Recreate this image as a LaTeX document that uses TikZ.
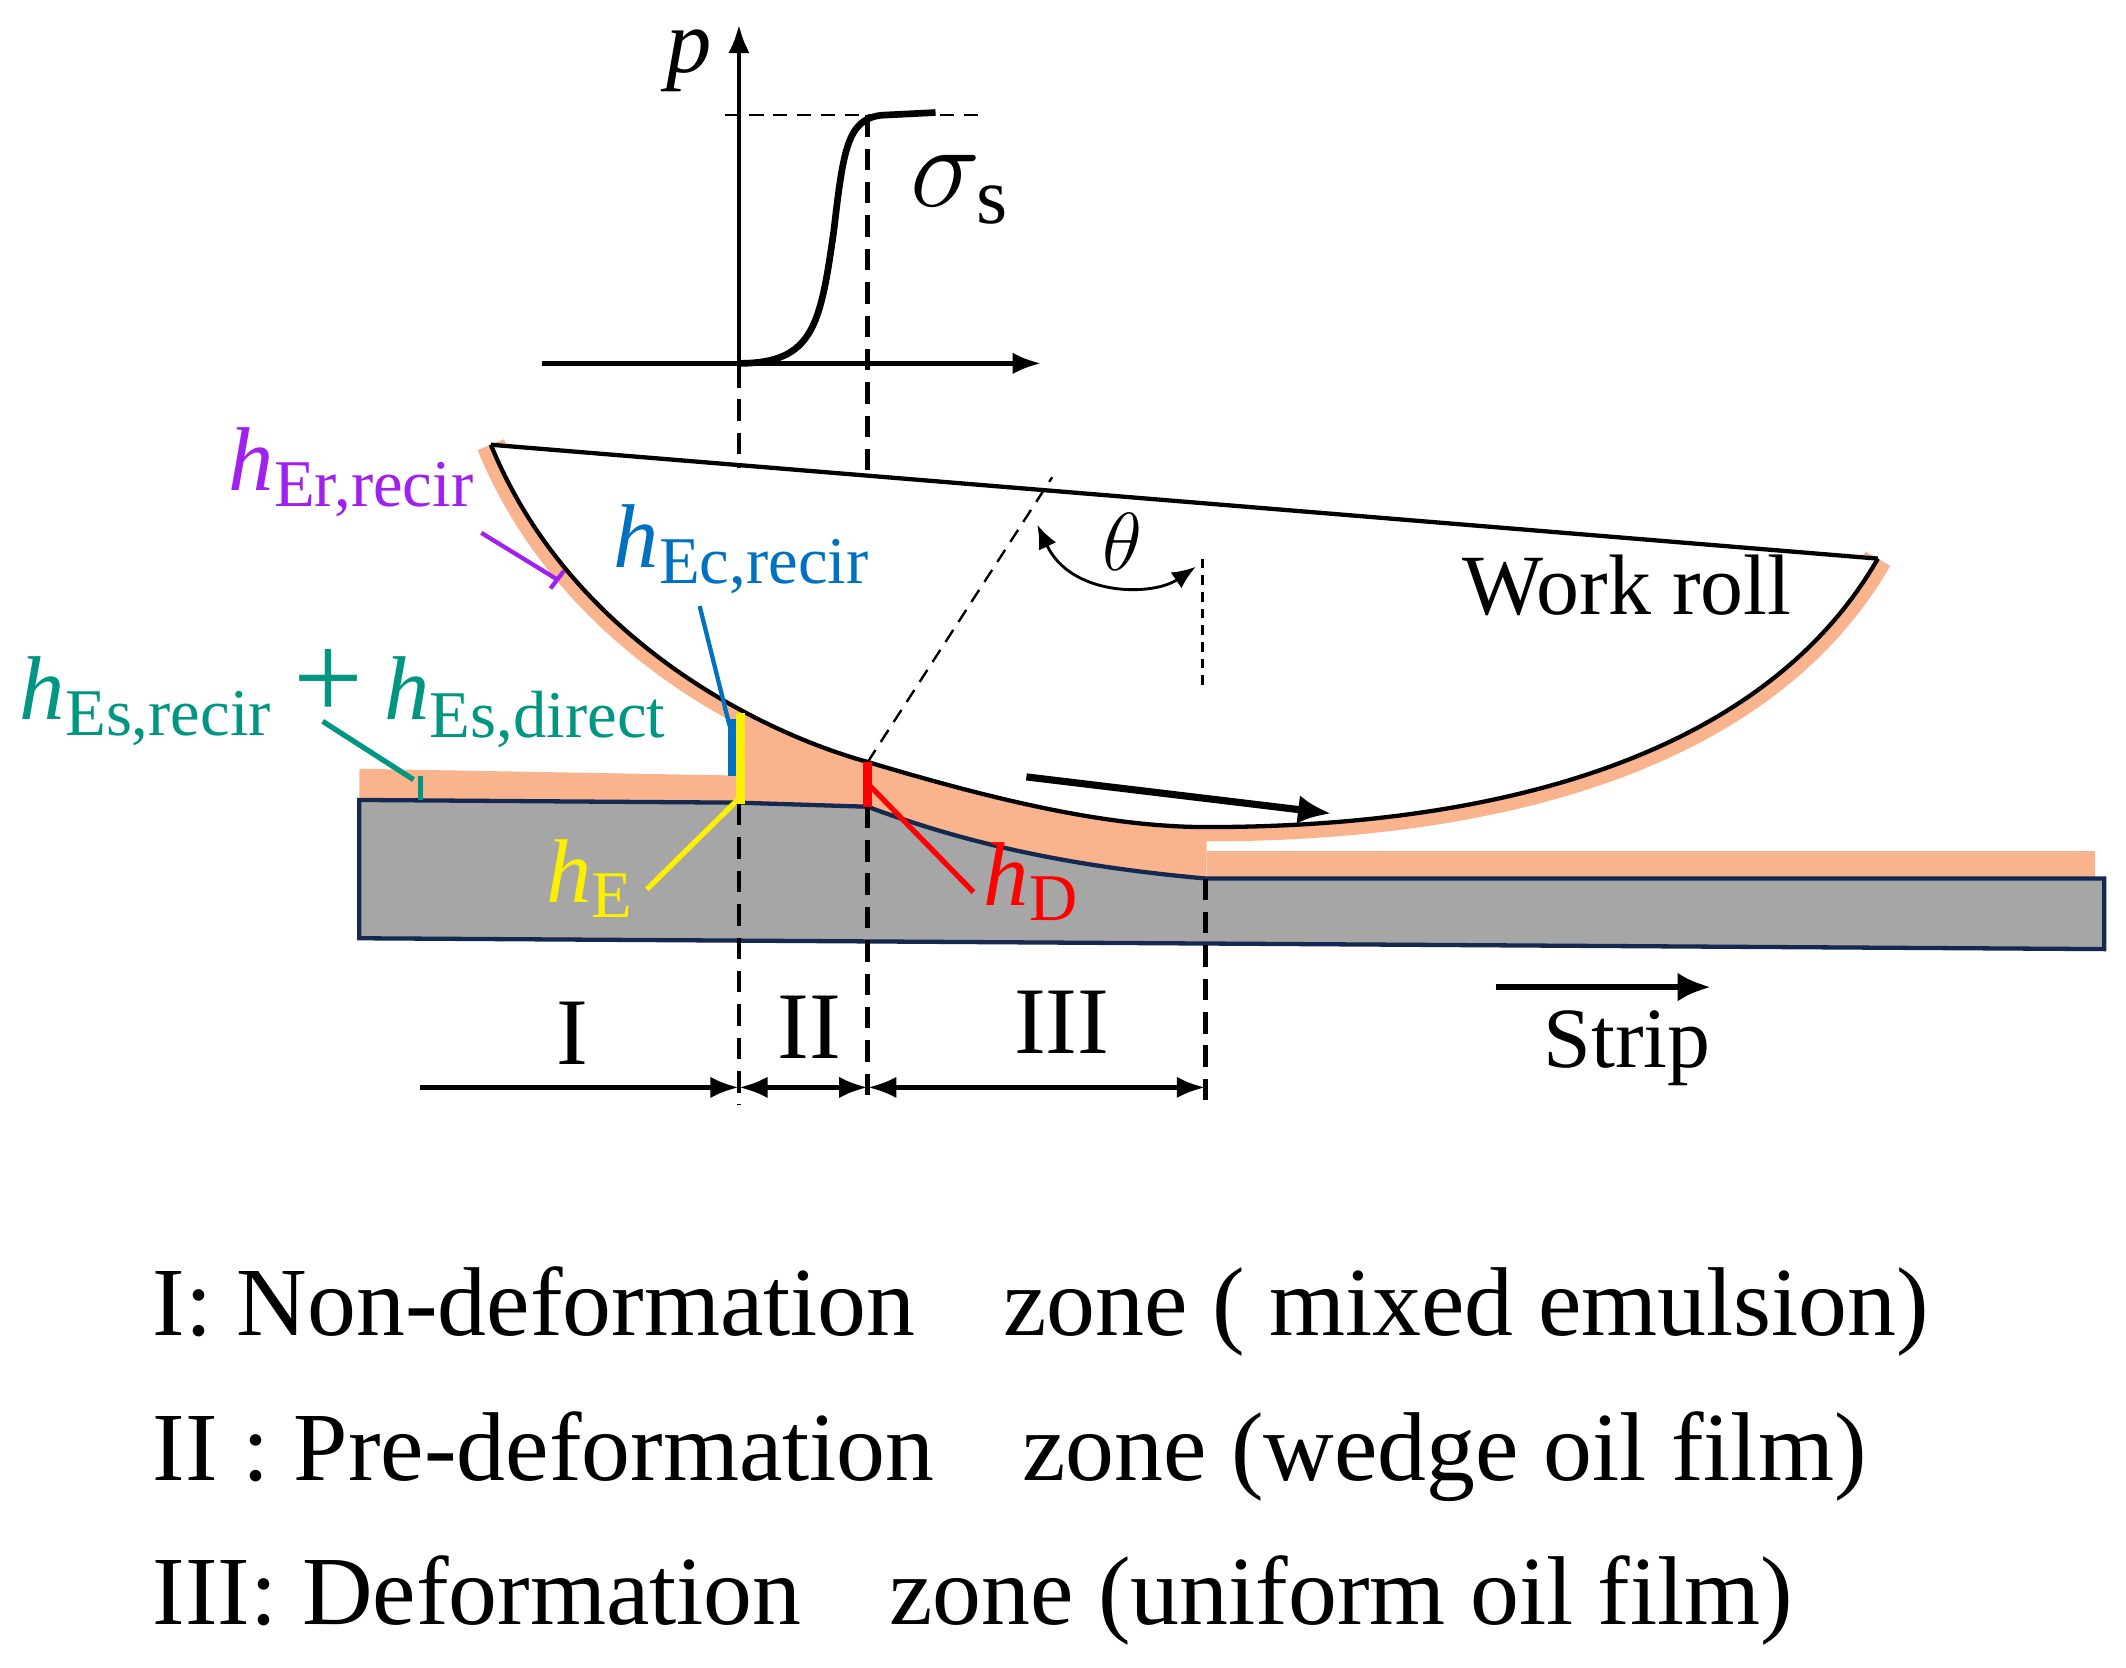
\documentclass[tikz,border=0pt]{standalone}
\usepackage{fontspec}
\setmainfont{Liberation Serif}
\usetikzlibrary{arrows.meta}
\definecolor{oil}{RGB}{249,180,142}
\definecolor{strip}{RGB}{166,166,166}
\definecolor{navy}{RGB}{20,40,80}
\definecolor{purp}{RGB}{160,32,240}
\definecolor{blu}{RGB}{0,112,192}
\definecolor{teal2}{RGB}{0,150,130}
\definecolor{yel}{RGB}{250,240,0}
\tikzset{
  dsh/.style={dash pattern=on 4.5pt off 2.5pt,line width=1pt},
  arr/.style={line width=1pt,-{Latex[length=6pt,width=4.5pt]}},
  darr/.style={line width=1pt,{Latex[length=6pt,width=4.5pt]}-{Latex[length=6pt,width=4.5pt]}},
  lab/.style={inner sep=0pt,font=\fontsize{19}{22}\selectfont\itshape},
  big/.style={inner sep=0pt,anchor=base west,font=\fontsize{20.5}{24}\selectfont},
}
\newcommand\sbs[1]{\textsubscript{\upshape\fontsize{14}{16}\selectfont #1}}
\def\rollcurve{(362,328) .. controls (420,470) and (560,540) .. (640,562) .. controls (740,592) and (820,610) .. (890,610) .. controls (1100,610) and (1300,560) .. (1385,412)}
\begin{document}
\begin{tikzpicture}[x=0.01cm,y=-0.01cm]
\useasboundingbox (0,0) rectangle (1568,1230);
% oil regions
\fill[oil] (265,567) -- (545,572) -- (545,593) -- (265,590) -- cycle;
\fill[oil] (545,524) .. controls (580,540) and (610,553) .. (640,562) .. controls (740,592) and (820,610) .. (890,612) -- (890,648) .. controls (800,640) and (720,625) .. (640,595) -- (545,593) -- cycle;
\fill[oil] (890,628) -- (1545,628) -- (1545,648) -- (890,648) -- cycle;
% strip
\filldraw[fill=strip,draw=navy,line width=0.9pt] (265,590) -- (545,592) -- (640,595) .. controls (720,625) and (800,640) .. (890,648) -- (1552,648) -- (1552,700) -- (265,692) -- cycle;
% roll
\draw[oil,line width=6pt] \rollcurve;
\fill[white] (362,328) -- (1385,412) .. controls (1300,560) and (1100,610) .. (890,610) .. controls (820,610) and (740,592) .. (640,562) .. controls (560,540) and (420,470) .. (362,328) -- cycle;
\draw[line width=0.9pt] (362,328) -- (1385,412);
\draw[line width=0.9pt] \rollcurve;
% p diagram
\draw[arr] (545,270) -- (545,18);
\draw[arr] (400,268) -- (768,268);
\node[lab] (p) at (508,45) {p};
\draw[line width=0.5pt,dash pattern=on 3pt off 2pt] (535,85) -- (725,85);
\draw[line width=1.4pt] (545,268) .. controls (600,268) and (605,240) .. (615,170) .. controls (622,110) and (625,88) .. (650,85) -- (690,83);
\node[inner sep=0pt,font=\fontsize{24}{26}\selectfont] (sig) at (708,140) {$\sigma_{\mathrm{s}}$};
\draw[dsh] (545,270) -- (545,345);
\draw[dsh] (640,85) -- (640,350);
% theta
\coordinate (c0) at (640,562);
\coordinate (c1) at (776,352);
\draw[line width=0.5pt,dash pattern=on 3pt off 2pt] (c0) -- (c1);
\draw[line width=0.5pt,dash pattern=on 2pt off 1.5pt] (887,412) -- (887,505);
\draw[line width=0.6pt,{Latex[length=5pt,width=4pt]}-{Latex[length=5pt,width=4pt]}] (765,387) .. controls (790,440) and (850,440) .. (882,418);
\node[lab] (th) at (828,400) {$\theta$};
\node[inner sep=0pt,font=\fontsize{18}{22}\selectfont] (wr) at (1200,432) {Work roll};
\draw[line width=1.5pt,-{Latex[length=7pt,width=6pt]}] (757,573) -- (982,600);
% zone lines
\draw[dsh] (545,593) -- (545,815);
\draw[dsh] (640,595) -- (640,815);
\draw[dsh] (889,648) -- (889,815);
\coordinate (z0) at (310,802);
\coordinate (z1) at (545,802);
\coordinate (z2) at (640,802);
\coordinate (z3) at (889,802);
\draw[arr] (z0) -- (z1);
\draw[darr] (z1) -- (z2);
\draw[darr] (z2) -- (z3);
\node[inner sep=0pt,font=\fontsize{20}{22}\selectfont] (I) at (422,762) {I};
\node[inner sep=0pt,font=\fontsize{20}{22}\selectfont] (II) at (597,758) {II};
\node[inner sep=0pt,font=\fontsize{20}{22}\selectfont] (III) at (783,754) {III};
\draw[line width=1.4pt,-{Latex[length=7pt,width=6pt]}] (1103,728) -- (1262,728);
\node[inner sep=0pt,font=\fontsize{18}{22}\selectfont] (st) at (1200,773) {Strip};
% labels
\node[lab,purp,anchor=west] (her) at (168,348) {h\sbs{Er,recir}};
\draw[purp,line width=0.9pt] (355,393) -- (412,428);
\draw[purp,line width=0.9pt] (406,434) -- (416,421);
\node[lab,blu,anchor=west] (hec) at (452,405) {h\sbs{Ec,recir}};
\draw[blu,line width=0.9pt] (516,447) -- (538,535);
\draw[blu,line width=1.8pt] (540,530) -- (540,572);
\node[lab,teal2,anchor=west] (hes) at (14,515) {h\sbs{Es,recir}{\upshape\fontsize{26}{26}\selectfont\,+\,}h\sbs{Es,direct}};
\draw[teal2,line width=1.1pt] (238,532) -- (305,575);
\draw[teal2,line width=1.1pt] (310,572) -- (310,590);
\draw[yel,line width=1.8pt] (546,526) -- (546,593);
\draw[yel,line width=1.1pt] (477,656) -- (546,588);
\node[lab,yel,anchor=west] (he) at (402,648) {h\sbs{E}};
\draw[red,line width=1.8pt] (640,562) -- (640,595);
\draw[red,line width=1.1pt] (642,580) -- (718,658);
\node[lab,red,anchor=west] (hd) at (725,650) {h\sbs{D}};
% legend
\node[big] (l1) at (112,985) {I: Non-deformation\hspace{0.9em}zone ( mixed emulsion)};
\node[big] (l2) at (112,1092) {II : Pre-deformation\hspace{0.9em}zone (wedge oil film)};
\node[big] (l3) at (112,1198) {III: Deformation\hspace{0.9em}zone (uniform oil film)};
\end{tikzpicture}
\end{document}
